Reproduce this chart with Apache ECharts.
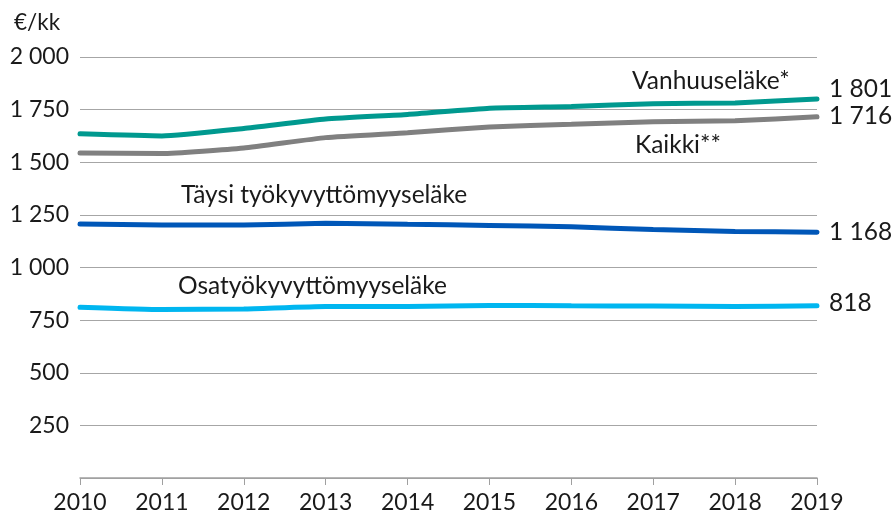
<!DOCTYPE html>
<html>
<head>
<meta charset="utf-8">
<script src="https://cdn.jsdelivr.net/npm/echarts@6/dist/echarts.min.js"></script>
<style>
  html, body { margin: 0; padding: 0; background: #fff; }
  #chart { width: 892px; height: 516px; }
</style>
</head>
<body>
<div id="chart"></div>
<script>
const years = ['2010', '2011', '2012', '2013', '2014', '2015', '2016', '2017', '2018', '2019']
const vanhuus = [1635, 1625, 1660, 1705, 1727, 1757, 1765, 1778, 1782, 1801]
const kaikki = [1544, 1541, 1568, 1617, 1640, 1668, 1680, 1692, 1697, 1716]
const taysi = [1207, 1202, 1202, 1210, 1205, 1200, 1193, 1180, 1171, 1168]
const osa = [811, 800, 803, 815, 815, 820, 818, 817, 815, 818]

const font = 'Lato, "Open Sans", sans-serif'
const textColor = '#1a1a1a'

function fmt (v) {
  return String(v).replace(/\B(?=(\d{3})+(?!\d))/g, ' ')
}

function line (name, data, color, offsetY) {
  return {
    name: name,
    type: 'line',
    data: data,
    symbol: 'none',
    smooth: 0.15,
    lineStyle: { color: color, width: 5, cap: 'round' },
    endLabel: {
      show: true,
      formatter: p => fmt(p.value),
      color: textColor,
      fontSize: 24.5,
      fontFamily: font,
      offset: [4, offsetY]
    },
    z: 3
  }
}

function label (text, x, y) {
  return {
    type: 'text',
    x: x,
    y: y,
    style: { text: text, font: '24.5px ' + font, fill: textColor, verticalAlign: 'middle' }
  }
}

const chart = echarts.init(document.getElementById('chart'))

chart.setOption({
  animation: false,
  grid: { left: 80, right: 75, top: 57, bottom: 38 },
  xAxis: {
    type: 'category',
    data: years,
    boundaryGap: false,
    axisLine: { lineStyle: { color: '#a0a0a0', width: 1.5 } },
    axisTick: { show: true, length: 7, lineStyle: { color: '#a0a0a0' } },
    axisLabel: { color: textColor, fontSize: 23, fontFamily: font, margin: 13 }
  },
  yAxis: {
    type: 'value',
    min: 0,
    max: 2000,
    interval: 250,
    axisLine: { show: false },
    axisTick: { show: false },
    splitLine: { lineStyle: { color: '#a6a6a6', width: 1.2 } },
    axisLabel: {
      color: textColor,
      fontSize: 23,
      fontFamily: font,
      margin: 11,
      formatter: v => (v === 0 ? '' : fmt(v))
    }
  },
  graphic: [
    {
      type: 'text', x: 14, y: 23,
      style: { text: '€/kk', font: '22.5px ' + font, fill: textColor, verticalAlign: 'middle' }
    },
    label('Vanhuuseläke*', 632, 81),
    label('Kaikki**', 635, 145),
    label('Täysi työkyvyttömyyseläke', 181, 195),
    label('Osatyökyvyttömyyseläke', 178, 286)
  ],
  series: [
    line('Vanhuuseläke*', vanhuus, '#00998f', -10),
    line('Kaikki**', kaikki, '#808080', -1),
    line('Täysi työkyvyttömyyseläke', taysi, '#0057b8', 0),
    line('Osatyökyvyttömyyseläke', osa, '#00b6f0', -3)
  ]
})
</script>
</body>
</html>
